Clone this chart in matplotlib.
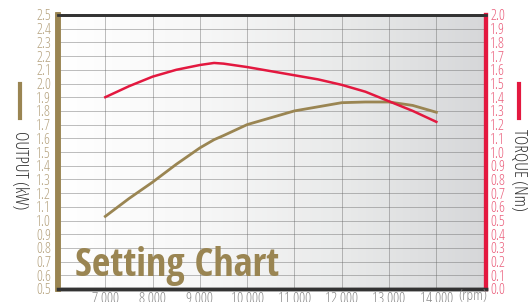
import numpy as np
import matplotlib
matplotlib.use("Agg")
import matplotlib.pyplot as plt
from matplotlib.lines import Line2D

# data
rpm = [7000, 7500, 8000, 8500, 9000, 9300, 9500, 10000, 10500, 11000,
       11500, 12000, 12500, 13000, 13500, 14000]
output_kw = [1.03, 1.16, 1.28, 1.41, 1.53, 1.59, 1.62, 1.70, 1.75, 1.80,
             1.83, 1.86, 1.865, 1.865, 1.84, 1.79]
torque_nm = [1.40, 1.48, 1.55, 1.60, 1.635, 1.65, 1.645, 1.62, 1.59, 1.56,
             1.53, 1.49, 1.44, 1.37, 1.30, 1.22]
x_ticks = [7000, 8000, 9000, 10000, 11000, 12000, 13000, 14000]
x_labels = ["7 000", "8 000", "9 000", "10 000", "11 000", "12 000", "13 000", "14 000"]
left_ticks = np.round(np.arange(0.5, 2.51, 0.1), 1)
right_ticks = np.round(np.arange(0.0, 2.01, 0.1), 1)

BROWN = "#9a8552"
RED = "#e3183f"
TAN = "#b5a27e"
PINK = "#ea5d7a"
NARROW = dict(family="Open Sans", fontstretch="condensed", fontweight="light")

fig = plt.figure(figsize=(5.31, 3.02), dpi=100)
ax = fig.add_axes([58 / 531, 1 - 289 / 302, 428 / 531, 274 / 302])
ax.set_xlim(6000, 15050)
ax.set_ylim(0.5, 2.5)

# white -> grey gradient background
grad = np.linspace(0, 1, 256).reshape(1, -1)
cmap = matplotlib.colors.LinearSegmentedColormap.from_list(
    "bg", ["#ffffff", "#f7f7f7", "#e9eaea", "#d6d7d9"])
ax.imshow(grad, extent=[0, 1, 0, 1], transform=ax.transAxes, aspect="auto",
          cmap=cmap, zorder=0)

ax.set_xticks(x_ticks)
ax.set_xticklabels(x_labels, fontsize=11, color="#8a8a8a", **NARROW)
ax.set_yticks(left_ticks)
ax.set_yticklabels([f"{v:.1f}" for v in left_ticks], fontsize=10.5, color=TAN, **NARROW)
ax.tick_params(axis="x", length=0, pad=2)
ax.tick_params(axis="y", length=0, pad=5)
ax.grid(True, color="#666666", linewidth=0.6, alpha=0.5, zorder=1)

ax2 = ax.twinx()
ax2.set_ylim(0.0, 2.0)
ax2.set_yticks(right_ticks)
ax2.set_yticklabels([f"{v:.1f}" for v in right_ticks], fontsize=10.5, color=PINK, **NARROW)
ax2.tick_params(length=0, pad=3)

ax2.plot(rpm, torque_nm, color=RED, linewidth=1.8, zorder=3, solid_joinstyle="round")
ax.plot(rpm, output_kw, color=BROWN, linewidth=2.0, zorder=3, solid_joinstyle="round")

for a in (ax, ax2):
    a.spines["left"].set_color(BROWN)
    a.spines["left"].set_linewidth(4)
    a.spines["right"].set_color(RED)
    a.spines["right"].set_linewidth(3)
    a.spines["top"].set_color("#333333")
    a.spines["top"].set_linewidth(2)
    a.spines["bottom"].set_color("#333333")
    a.spines["bottom"].set_linewidth(2.5)

fig.text(75 / 531, 1 - 286 / 302, "Setting Chart", fontsize=29,
         family="Open Sans Condensed", fontweight="bold", color=BROWN,
         ha="left", va="bottom", zorder=4)

fig.text(473 / 531, 1 - 297 / 302, "(rpm)", fontsize=11, color="#8a8a8a",
         ha="center", va="center", **NARROW)

# axis titles with colored bars
fig.add_artist(Line2D([20 / 531, 20 / 531], [1 - 84 / 302, 1 - 118 / 302],
                      color=BROWN, linewidth=3, transform=fig.transFigure))
fig.text(20 / 531, 1 - 170 / 302, "OUTPUT (kW)", rotation=270, fontsize=13,
         color="#333333", ha="center", va="center", **NARROW)
fig.add_artist(Line2D([519 / 531, 519 / 531], [1 - 84 / 302, 1 - 118 / 302],
                      color=RED, linewidth=3, transform=fig.transFigure))
fig.text(519 / 531, 1 - 170 / 302, "TORQUE (Nm)", rotation=270, fontsize=13,
         color="#333333", ha="center", va="center", **NARROW)

fig.savefig("out.png", dpi=100)
